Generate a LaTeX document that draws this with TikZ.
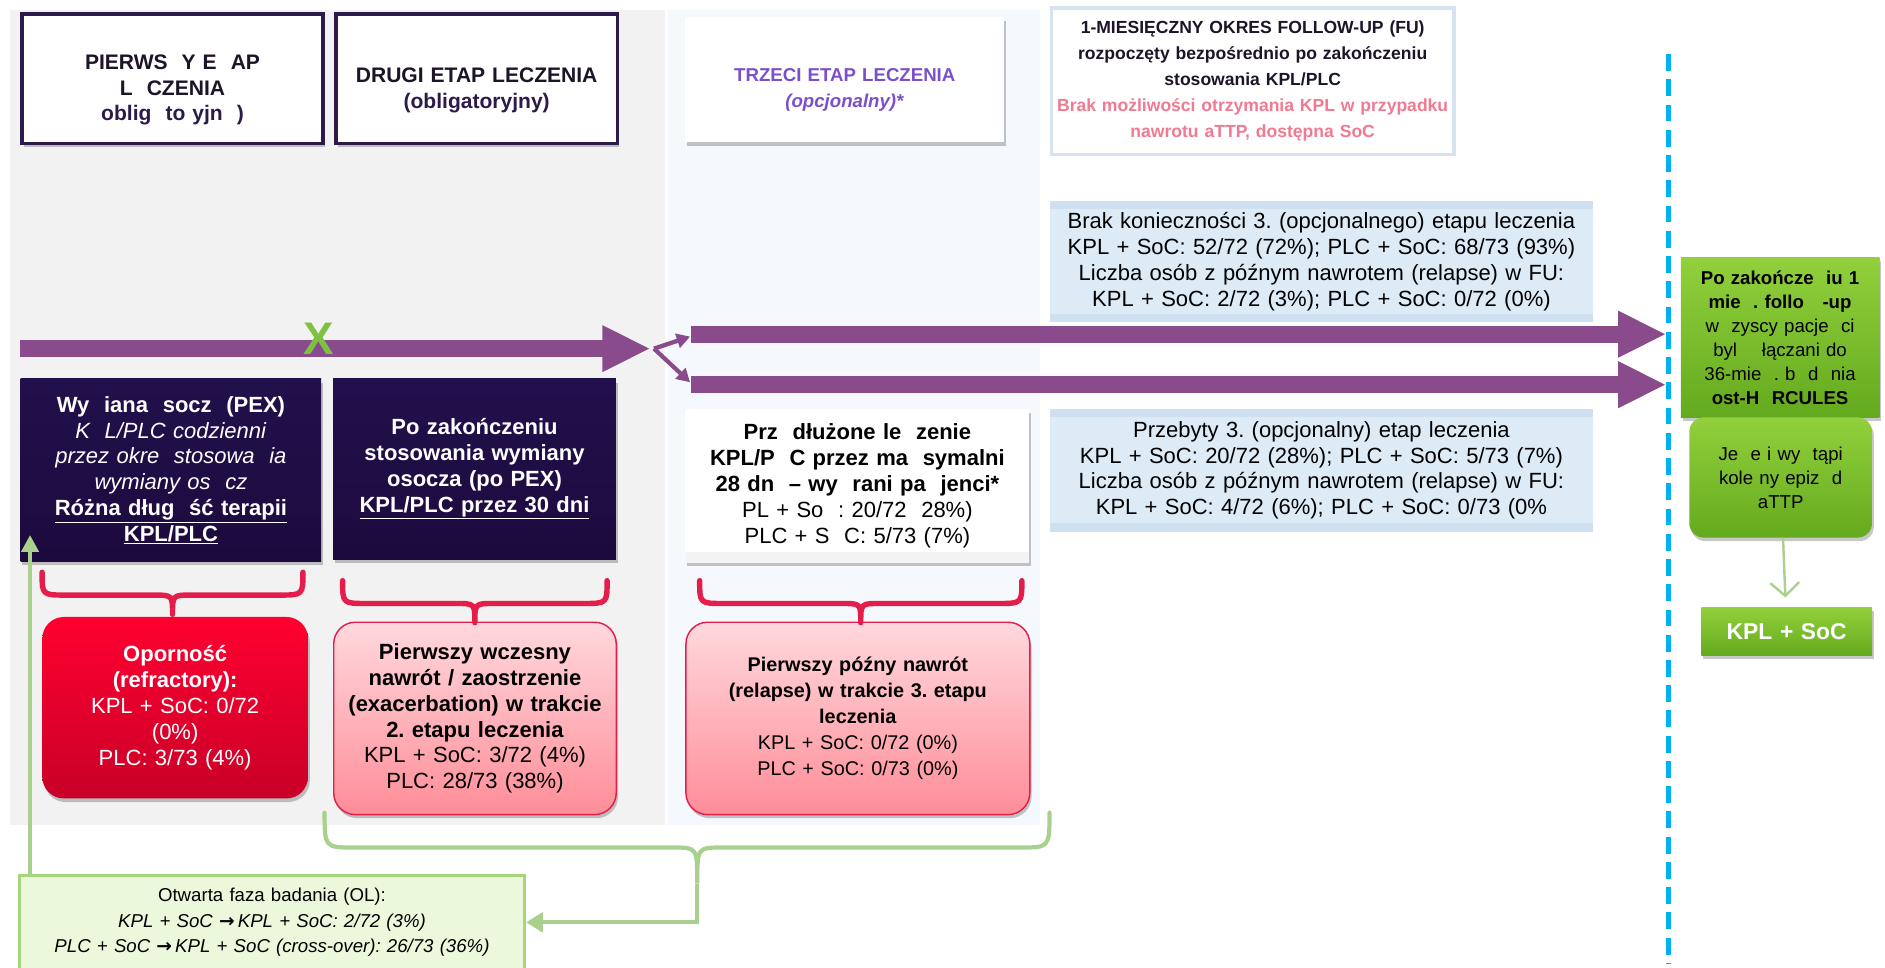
\documentclass[tikz,border=0pt]{standalone}
\usepackage{fontspec}
\setmainfont{Liberation Sans}
\newfontfamily\symfont{DejaVu Sans}
\usetikzlibrary{arrows.meta,shadows,calc}
\definecolor{hdrpurple}{RGB}{43,26,74}
\definecolor{darkblock}{RGB}{34,16,76}
\definecolor{darkblocklo}{RGB}{28,10,62}
\definecolor{arrowpurple}{RGB}{138,75,141}
\definecolor{thirdpurple}{RGB}{122,79,203}
\definecolor{fublue}{RGB}{214,228,242}
\definecolor{fupink}{RGB}{240,122,145}
\definecolor{infoblue}{RGB}{221,235,247}
\definecolor{bandblue}{RGB}{207,224,241}
\definecolor{panelgrey}{RGB}{242,242,242}
\definecolor{panelblue}{RGB}{245,249,253}
\definecolor{bracered}{RGB}{228,30,75}
\definecolor{hotred}{RGB}{255,0,48}
\definecolor{hotredlo}{RGB}{200,0,40}
\definecolor{pinkhi}{RGB}{255,216,221}
\definecolor{pinklo}{RGB}{255,141,152}
\definecolor{olgreen}{RGB}{169,209,142}
\definecolor{olfill}{RGB}{235,248,219}
\definecolor{olborder}{RGB}{166,213,123}
\definecolor{xgreen}{RGB}{125,193,66}
\definecolor{boxgreen}{RGB}{146,208,60}
\definecolor{boxgreenlo}{RGB}{100,170,30}
\definecolor{dashblue}{RGB}{0,176,240}
\definecolor{headink}{RGB}{30,20,40}
\newcommand{\toppad}{\rule{0pt}{31pt}}

\begin{document}
\frenchspacing
\begin{tikzpicture}[x=1pt, y=-1pt,
    every node/.style={inner sep=2pt, align=center, anchor=north west,
      font=\fontsize{18.3}{21.5}\selectfont},
    softshadow/.style={drop shadow={shadow xshift=1.5pt, shadow yshift=-3pt, fill=black, opacity=0.22}},
    hdrbox/.style={draw=hdrpurple, line width=3pt, fill=white, softshadow,
      text=headink, font=\fontsize{17.5}{21.5}\selectfont\bfseries},
    infobox/.style={fill=infoblue,
      path picture={\fill[bandblue] (path picture bounding box.north west) rectangle ([yshift=-7pt]path picture bounding box.north east);
        \fill[bandblue] (path picture bounding box.south west) rectangle ([yshift=7pt]path picture bounding box.south east);}},
    darkbox/.style={top color=darkblock, bottom color=darkblocklo, text=white, softshadow},
    whitebox/.style={fill=white, softshadow,
      path picture={\fill[panelgrey!80!black!20] (path picture bounding box.south west) rectangle ([yshift=9pt]path picture bounding box.south east);}},
    hotbox/.style={rounded corners=18pt, top color=hotred, bottom color=hotredlo, text=white, softshadow},
    pinkbox/.style={rounded corners=18pt, draw=bracered, line width=1.2pt, top color=pinkhi, bottom color=pinklo, softshadow},
    greenbox/.style={top color=boxgreen, bottom color=boxgreenlo, softshadow, font=\fontsize{15.5}{20}\selectfont},
    bigarrow/.style={line width=14pt, arrowpurple, -{Triangle[length=40pt,width=36pt]}},
    splitarrow/.style={line width=3.5pt, arrowpurple, -{Triangle[length=11pt,width=12pt]}},
    redbrace/.style={line width=4.5pt, bracered, line cap=round, line join=round},
    greenline/.style={line width=3.5pt, olgreen},
]
\useasboundingbox (0,0) rectangle (1568,805);

% background columns
\fill[panelgrey] (8,8) rectangle (553,686);
\fill[panelblue] (556,8) rectangle (865,686);

% column headers
\node[hdrbox, minimum width=250pt, minimum height=108pt, text width=240pt] (hdrone) at (17,10)
  {\toppad PIERWS~~Y~E~~AP\\ L~~CZENIA\\ \textcolor{hdrpurple}{oblig~~to~yjn~~)}};
\node[hdrbox, minimum width=234pt, minimum height=108pt, text width=228pt] (hdrtwo) at (278,10)
  {\toppad DRUGI ETAP LECZENIA\\ \textcolor{hdrpurple}{(obligatoryjny)}};
\node[fill=white, softshadow, text=thirdpurple, font=\fontsize{15.5}{21.5}\selectfont\bfseries,
  minimum width=265pt, minimum height=104pt, text width=255pt] (hdrthree) at (570,14)
  {\rule{0pt}{28pt}TRZECI ETAP LECZENIA\\ \textit{(opcjonalny)*}};
\node[draw=fublue, line width=3pt, fill=white, text=headink, font=\fontsize{14.6}{21.5}\selectfont\bfseries,
  minimum width=335pt, minimum height=122pt, text width=330pt] (hdrfu) at (873,5)
  {1-MIESIĘCZNY OKRES FOLLOW-UP (FU)\\ rozpoczęty bezpośrednio po zakończeniu\\ stosowania KPL/PLC\\
   \textcolor{fupink}{Brak możliwości otrzymania KPL w przypadku}\\ \textcolor{fupink}{nawrotu aTTP, dostępna SoC}};

% follow-up results
\node[infobox, minimum width=452pt, minimum height=101pt, text width=448pt] (nothird) at (873,167)
  {Brak konieczności 3. (opcjonalnego) etapu leczenia\\ KPL + SoC: 52/72 (72\%); PLC + SoC: 68/73 (93\%)\\
   Liczba osób z późnym nawrotem (relapse) w FU:\\ KPL + SoC: 2/72 (3\%); PLC + SoC: 0/72 (0\%)};
\node[infobox, minimum width=452pt, minimum height=102pt, text width=448pt] (withthird) at (873,340)
  {Przebyty 3. (opcjonalny) etap leczenia\\ KPL + SoC: 20/72 (28\%); PLC + SoC: 5/73 (7\%)\\
   Liczba osób z późnym nawrotem (relapse) w FU:\\ KPL + SoC: 4/72 (6\%); PLC + SoC: 0/73 (0\%};

% treatment stages
\node[darkbox, minimum width=250pt, minimum height=152pt, text width=244pt] (pex) at (17,315)
  {\textbf{Wy~~iana~~socz~~(PEX)}\\ \textit{K~~L/PLC codzienni}\\ \textit{przez okre~~stosowa~~ia}\\ \textit{wymiany os~~cz}\\
   \textbf{\underline{Różna dług~~ść terapii}}\\ \textbf{\underline{KPL/PLC}}};
\node[darkbox, minimum width=235pt, minimum height=150pt, text width=229pt] (postpex) at (277,315)
  {\textbf{Po zakończeniu}\\ \textbf{stosowania wymiany}\\ \textbf{osocza (po PEX)}\\ \textbf{\underline{KPL/PLC przez 30 dni}}};
\node[whitebox, minimum width=286pt, minimum height=128pt, text width=280pt] (extended) at (570,340)
  {\textbf{Prz~~dłużone le~~zenie}\\ \textbf{KPL/P~~C przez ma~~symalni}\\ \textbf{28 dn~~– wy~~rani pa~~jenci*}\\
   PL + So~~: 20/72~~28\%)\\ PLC + S~~C: 5/73 (7\%)};

% outcomes
\node[hotbox, minimum width=221pt, minimum height=151pt, text width=210pt] (refract) at (35,513)
  {\textbf{Oporność}\\ \textbf{(refractory):}\\ KPL + SoC: 0/72\\ (0\%)\\ PLC: 3/73 (4\%)};
\node[pinkbox, minimum width=235pt, minimum height=160pt, text width=228pt] (early) at (277,517)
  {\textbf{Pierwszy wczesny}\\ \textbf{nawrót / zaostrzenie}\\ \textbf{(exacerbation) w trakcie}\\ \textbf{2. etapu leczenia}\\
   KPL + SoC: 3/72 (4\%)\\ PLC: 28/73 (38\%)};
\node[pinkbox, minimum width=286pt, minimum height=160pt, text width=272pt, font=\fontsize{16.5}{21.5}\selectfont] (late) at (570,517)
  {\textbf{Pierwszy późny nawrót}\\ \textbf{(relapse) w trakcie 3. etapu}\\ \textbf{leczenia}\\
   KPL + SoC: 0/72 (0\%)\\ PLC + SoC: 0/73 (0\%)};

% open-label phase
\node[draw=olborder, line width=2.5pt, fill=olfill, minimum width=420pt, minimum height=78pt, text width=414pt,
  font=\fontsize{15.5}{21}\selectfont] (openlabel) at (15,727)
  {Otwarta faza badania (OL):\\ \textit{KPL + SoC {\symfont\bfseries→}\,KPL + SoC: 2/72 (3\%)}\\
   \textit{PLC + SoC {\symfont\bfseries→}\,KPL + SoC (cross-over): 26/73 (36\%)}};

% after follow-up
\node[greenbox, minimum width=165pt, minimum height=133pt, text width=158pt] (herc) at (1398,214)
  {\textbf{Po zakończe~~iu 1}\\ \textbf{mie~~. follo~~~-up}\\ w~~zyscy pacje~~ci\\ byl~~~~łączani do\\
   36-mie~~. b~~d~~nia\\ \textbf{ost-H~~RCULES}};
\node[greenbox, rounded corners=12pt, minimum width=152pt, minimum height=100pt, text width=145pt] (recur) at (1405,347)
  {Je~~e i wy~~tąpi\\ kole ny epiz~~d\\ aTTP};
\node[greenbox, text=white, minimum width=142pt, minimum height=40pt, text width=136pt,
  font=\fontsize{19}{22}\selectfont\bfseries] (kplsoc) at (1415,505) {KPL + SoC};

% timeline arrows
\coordinate (tlstart) at (17,290);
\coordinate (tlsplit) at (541,290);
\coordinate (upstart) at (575,278);
\coordinate (upend) at (1386,278);
\coordinate (lostart) at (575,320);
\coordinate (loend) at (1386,320);
\draw[bigarrow] (tlstart) -- (tlsplit);
\draw[bigarrow] (upstart) -- (upend);
\draw[bigarrow] (lostart) -- (loend);
\draw[splitarrow] ([xshift=3pt]tlsplit) -- ([xshift=-1pt,yshift=-2pt]upstart);
\draw[splitarrow] ([xshift=3pt]tlsplit) -- ([xshift=-1pt,yshift=2pt]lostart);
\node[anchor=center, text=xgreen, font=\fontsize{38}{38}\selectfont\bfseries] (cross) at (265,282) {X};

% end of follow-up
\draw[dashblue, line width=4pt, dash pattern=on 14pt off 7pt] (1388,45) -- (1388,802);
\draw[line width=2pt, olgreen, -{Straight Barb[length=11pt,width=24pt]}, shorten >=8pt] (recur) -- (kplsoc);

% braces
\foreach \xa/\xb/\yt in {35/252/476, 285/505/483, 582/850/483}{
  \pgfmathsetmacro\xm{(\xa+\xb)/2}
  \draw[redbrace] (\xa,\yt) .. controls (\xa,\yt+19) .. (\xa+20,\yt+19) -- (\xm-16,\yt+19)
    .. controls (\xm,\yt+19) .. (\xm,\yt+35) .. controls (\xm,\yt+19) .. (\xm+16,\yt+19)
    -- (\xb-20,\yt+19) .. controls (\xb,\yt+19) .. (\xb,\yt);
}
\draw[greenline, line cap=round] (270,676) .. controls (270,705) .. (295,705) -- (560,705)
  .. controls (580,705) .. (580,735) .. controls (580,705) .. (600,705) -- (848,705)
  .. controls (873,705) .. (873,676);
\coordinate (bracetip) at (580,735);
\draw[greenline, -{Triangle[length=14pt,width=16pt]}] (bracetip) |- (openlabel.east);
\coordinate (pexentry) at (25,445);
\draw[greenline, -{Triangle[length=14pt,width=14pt]}] (openlabel.north -| pexentry) -- (pexentry);
\end{tikzpicture}
\end{document}
